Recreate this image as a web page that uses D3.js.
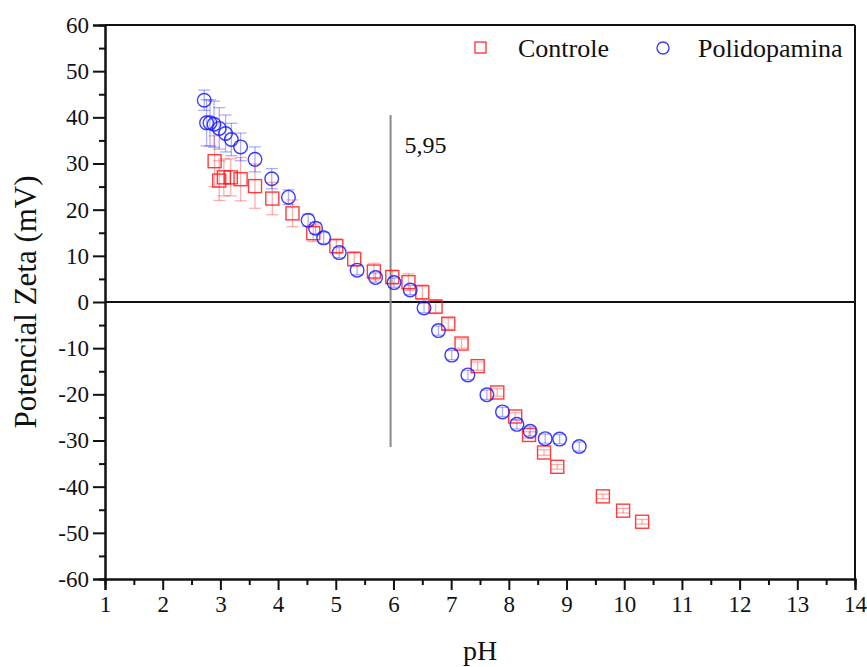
<!DOCTYPE html>
<html>
<head>
<meta charset="utf-8">
<script src="https://cdn.jsdelivr.net/npm/d3@7"></script>
<style>
  body { margin: 0; background: #fff; }
  svg text { font-family: "Liberation Serif", "Times New Roman", serif; fill: #111; }
</style>
</head>
<body>
<div id="chart"></div>
<script>
// Controle (quadrados vermelhos)
var controlePH = [2.90, 2.98, 3.06, 3.18, 3.35, 3.60, 3.90, 4.25, 4.61, 5.01, 5.32, 5.66, 5.98, 6.26, 6.50, 6.73, 6.95, 7.18, 7.46, 7.80, 8.11, 8.35, 8.61, 8.84, 9.63, 9.98, 10.31]
var controleZeta = [30.5, 26.3, 27.0, 27.0, 26.6, 25.1, 22.4, 19.2, 14.9, 12.1, 9.3, 6.6, 5.4, 4.3, 2.1, -1.0, -4.7, -9.0, -13.9, -19.6, -24.8, -28.8, -32.6, -35.7, -42.1, -45.2, -47.6]
var controleErr = [5.5, 4.3, 4.0, 4.0, 4.7, 4.8, 3.5, 2.9, 1.8, 1.6, 1.6, 1.8, 1.5, 1.8, 1.6, 1.5, 1.2, 1.0, 0.9, 0.8, 0.8, 0.7, 0.6, 0.5, 0.5, 0.5, 0.5]

// Polidopamina (círculos azuis)
var poliPH = [2.72, 2.76, 2.82, 2.89, 2.98, 3.09, 3.19, 3.35, 3.60, 3.89, 4.18, 4.52, 4.65, 4.79, 5.06, 5.37, 5.69, 6.01, 6.29, 6.53, 6.78, 7.01, 7.29, 7.62, 7.89, 8.14, 8.37, 8.63, 8.88, 9.22]
var poliZeta = [43.7, 38.8, 38.8, 38.5, 37.6, 36.5, 35.2, 33.6, 30.9, 26.7, 22.7, 17.7, 16.0, 13.9, 10.7, 6.9, 5.3, 4.2, 2.6, -1.3, -6.2, -11.5, -15.8, -20.1, -23.8, -26.5, -28.0, -29.6, -29.7, -31.3]
var poliErr = [2.2, 5.0, 5.0, 5.0, 4.5, 4.0, 3.5, 3.0, 2.7, 2.2, 1.6, 1.3, 1.2, 1.2, 1.1, 1.0, 1.0, 1.0, 1.0, 1.0, 1.0, 1.0, 1.0, 1.0, 1.0, 1.0, 1.0, 1.0, 1.0, 1.0]

var xTicks = [1, 2, 3, 4, 5, 6, 7, 8, 9, 10, 11, 12, 13, 14]
var yTicks = [60, 50, 40, 30, 20, 10, 0, -10, -20, -30, -40, -50, -60]
var pontoIso = 5.95
var pontoIsoLabel = '5,95'
var linhaIsoRange = [40.5, -31.4]
var legendNames = ['Controle', 'Polidopamina']

var width = 867, height = 667
var margin = {left: 105, top: 25, right: 12, bottom: 88}
var g_width = width - margin.left - margin.right,
    g_height = height - margin.top - margin.bottom

var svg = d3.select('#chart')
    .append('svg')
    .attr('width', width)
    .attr('height', height)

var g = svg.append('g')
    .attr('transform', `translate(${margin.left},${margin.top})`)

var scale_x = d3.scaleLinear().domain([1, 14]).range([0, g_width])
var scale_y = d3.scaleLinear().domain([-60, 60]).range([g_height, 0])

var red = '#ff1a1a', blue = '#1a1aff'

// linha zero
g.append('line')
    .attr('x1', 0).attr('x2', g_width)
    .attr('y1', scale_y(0)).attr('y2', scale_y(0))
    .attr('stroke', '#111').attr('stroke-width', 2)

// linha do ponto isoelétrico
g.append('line')
    .attr('x1', scale_x(pontoIso)).attr('x2', scale_x(pontoIso))
    .attr('y1', scale_y(linhaIsoRange[0])).attr('y2', scale_y(linhaIsoRange[1]))
    .attr('stroke', '#888').attr('stroke-width', 2)
g.append('text')
    .attr('x', scale_x(pontoIso) + 14)
    .attr('y', scale_y(32.3))
    .attr('font-size', 24)
    .text(pontoIsoLabel)

function errorBars (xs, ys, es, color) {
    var data = xs.map((x, i) => ({x: x, y: ys[i], e: es[i]}))
    var eb = g.append('g').attr('stroke', color).attr('stroke-opacity', 0.35).attr('stroke-width', 1.3)
    data.forEach(d => {
        var cx = scale_x(d.x)
        eb.append('line').attr('x1', cx).attr('x2', cx)
            .attr('y1', scale_y(d.y + d.e)).attr('y2', scale_y(d.y - d.e))
        eb.append('line').attr('x1', cx - 6).attr('x2', cx + 6)
            .attr('y1', scale_y(d.y + d.e)).attr('y2', scale_y(d.y + d.e))
        eb.append('line').attr('x1', cx - 6).attr('x2', cx + 6)
            .attr('y1', scale_y(d.y - d.e)).attr('y2', scale_y(d.y - d.e))
    })
    return data
}

var cData = errorBars(controlePH, controleZeta, controleErr, red)
var pData = errorBars(poliPH, poliZeta, poliErr, blue)

// quadrados
g.append('g').selectAll('rect')
    .data(cData)
    .enter()
    .append('rect')
    .attr('x', d => scale_x(d.x) - 6.5)
    .attr('y', d => scale_y(d.y) - 6.5)
    .attr('width', 13).attr('height', 13)
    .attr('fill', 'none')
    .attr('stroke', red).attr('stroke-opacity', 0.85)
    .attr('stroke-width', 1.4)

// círculos
g.append('g').selectAll('circle')
    .data(pData)
    .enter()
    .append('circle')
    .attr('cx', d => scale_x(d.x))
    .attr('cy', d => scale_y(d.y))
    .attr('r', 6.8)
    .attr('fill', 'none')
    .attr('stroke', blue).attr('stroke-opacity', 0.85)
    .attr('stroke-width', 1.4)

// moldura superior e direita
g.append('line').attr('x1', 0).attr('x2', g_width).attr('y1', 0).attr('y2', 0)
    .attr('stroke', '#111').attr('stroke-width', 2)
g.append('line').attr('x1', g_width).attr('x2', g_width).attr('y1', 0).attr('y2', g_height)
    .attr('stroke', '#111').attr('stroke-width', 2)

// eixos
var fmt = d => String(d)
var x_axis = d3.axisBottom(scale_x).tickValues(xTicks).tickSize(11).tickPadding(6).tickFormat(fmt)
var x_minor = d3.axisBottom(scale_x).tickValues(xTicks.slice(0, -1).map(v => v + 0.5)).tickSize(6).tickFormat('')
var y_axis = d3.axisLeft(scale_y).tickValues(yTicks).tickSize(12).tickPadding(4).tickFormat(fmt)
var y_minor = d3.axisLeft(scale_y).tickValues(yTicks.slice(0, -1).map(v => v - 5)).tickSize(6).tickFormat('')

function styleAxis (sel) {
    sel.attr('font-family', null)
    sel.select('.domain').attr('stroke', '#111').attr('stroke-width', 2)
    sel.selectAll('.tick line').attr('stroke', '#111').attr('stroke-width', 2)
    sel.selectAll('.tick text').attr('font-size', 23).attr('fill', '#111')
}

g.append('g').attr('transform', `translate(0,${g_height})`).call(x_minor).call(styleAxis)
g.append('g').attr('transform', `translate(0,${g_height})`).call(x_axis).call(styleAxis)
g.append('g').call(y_minor).call(styleAxis)
g.append('g').call(y_axis).call(styleAxis)

// títulos dos eixos
svg.append('text')
    .attr('x', margin.left + scale_x(7.5))
    .attr('y', 660)
    .attr('text-anchor', 'middle')
    .attr('font-size', 28)
    .text('pH')
svg.append('text')
    .attr('transform', `translate(36,${margin.top + scale_y(0)}) rotate(-90)`)
    .attr('text-anchor', 'middle')
    .attr('font-size', 31)
    .text('Potencial Zeta (mV)')

// legenda
var leg = svg.append('g')
leg.append('rect').attr('x', 475).attr('y', 42).attr('width', 11).attr('height', 11)
    .attr('fill', 'none').attr('stroke', red).attr('stroke-opacity', 0.85).attr('stroke-width', 1.4)
leg.append('text').attr('x', 518).attr('y', 57).attr('font-size', 26).text(legendNames[0])
leg.append('circle').attr('cx', 663).attr('cy', 48).attr('r', 6)
    .attr('fill', 'none').attr('stroke', blue).attr('stroke-opacity', 0.85).attr('stroke-width', 1.4)
leg.append('text').attr('x', 698).attr('y', 57).attr('font-size', 26).text(legendNames[1])
</script>
</body>
</html>
